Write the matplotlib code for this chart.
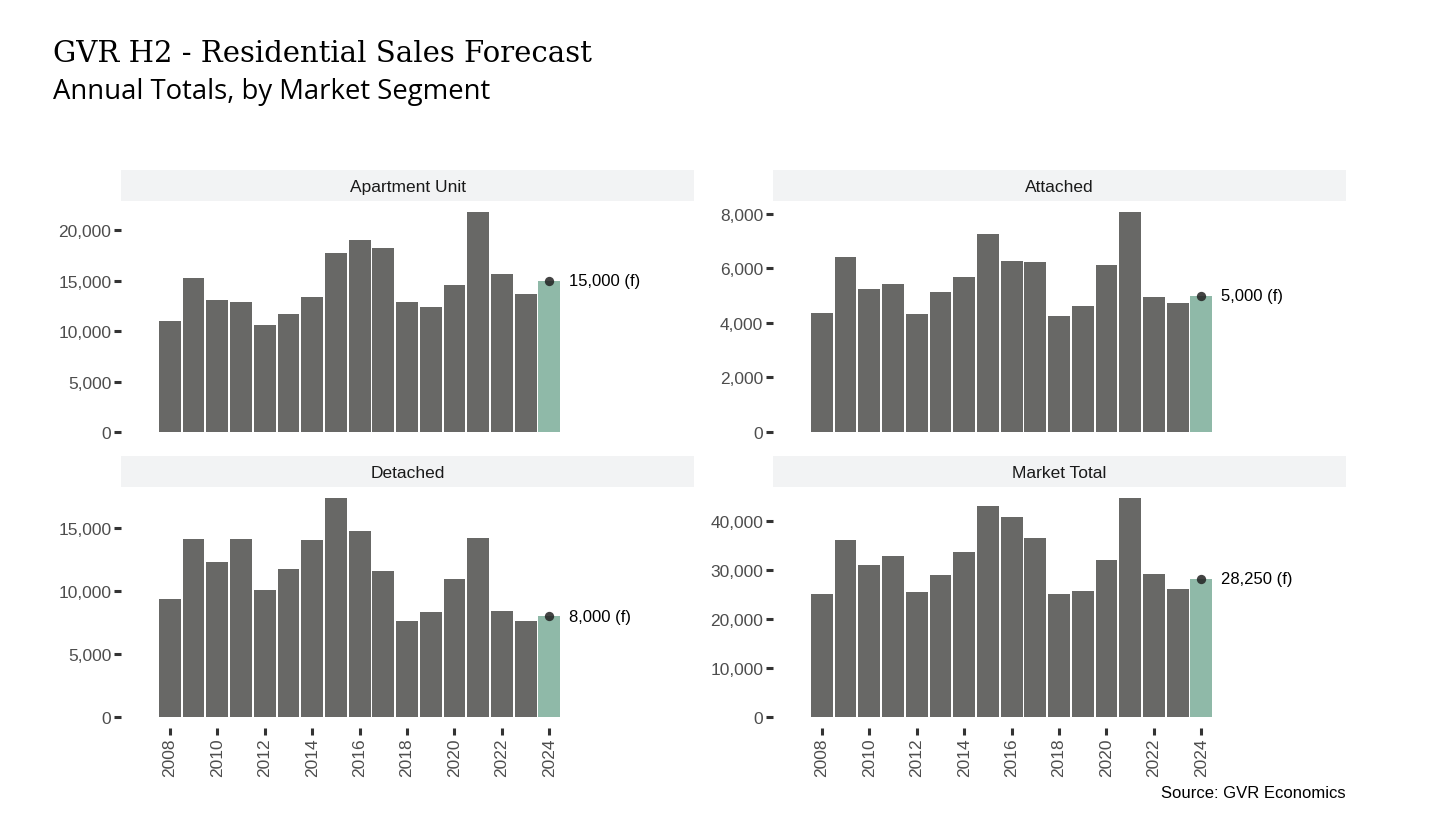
"""
GVR H2 - Residential Sales Forecast
Annual totals by market segment, small multiples with free y scales
"""

import matplotlib
matplotlib.use('Agg')
import matplotlib.pyplot as plt
from matplotlib.ticker import FuncFormatter
import numpy as np

# Data
years = list(range(2008, 2025))
forecast_year = 2024

segments = ['Apartment Unit', 'Attached', 'Detached', 'Market Total']

apartment = [11050, 15240, 13140, 12940, 10650, 11750, 13440, 17740, 19030,
             18240, 12850, 12450, 14540, 21830, 15640, 13740, 15000]
attached = [4380, 6410, 5230, 5420, 4340, 5120, 5670, 7260, 6260,
            6230, 4270, 4640, 6120, 8070, 4940, 4750, 5000]
detached = [9340, 14120, 12290, 14120, 10060, 11730, 14040, 17390, 14760,
            11570, 7590, 8310, 10940, 14200, 8390, 7590, 8000]
market_total = [25100, 36170, 31040, 32890, 25500, 28990, 33710, 43150, 40890,
                36580, 25090, 25710, 32070, 44790, 29200, 26120, 28250]

forecast_labels = ['15,000 (f)', '5,000 (f)', '8,000 (f)', '28,250 (f)']

y_ticks = {
    'Apartment Unit': [0, 5000, 10000, 15000, 20000],
    'Attached': [0, 2000, 4000, 6000, 8000],
    'Detached': [0, 5000, 10000, 15000],
    'Market Total': [0, 10000, 20000, 30000, 40000],
}
x_ticks = list(range(2008, 2025, 2))

series = dict(zip(segments, [apartment, attached, detached, market_total]))

# Styling
BAR_COLOR = '#686866'
FORECAST_COLOR = '#8FB9A8'
STRIP_COLOR = '#F2F3F4'
TICK_LABEL_COLOR = '#4D4D4D'
TICK_COLOR = '#333333'
SANS = ['Liberation Sans', 'DejaVu Sans']

W, H = 1432, 828

# panel boxes in pixels: (left, top, right, bottom)
panel_px = {
    'Apartment Unit': (121, 202, 694, 444),
    'Attached': (773, 202, 1346, 444),
    'Detached': (121, 488, 694, 729),
    'Market Total': (773, 488, 1346, 729),
}
STRIP_H = 31


def px_box(left, top, right, bottom):
    return [left / W, 1 - bottom / H, (right - left) / W, (bottom - top) / H]


def thousands(v, pos):
    return f'{int(v):,}'


fig = plt.figure(figsize=(W / 100, H / 100), dpi=100)
fig.patch.set_facecolor('white')

for i, seg in enumerate(segments):
    left, top, right, bottom = panel_px[seg]
    ax = fig.add_axes(px_box(left, top, right, bottom))
    vals = np.array(series[seg])
    colors = [FORECAST_COLOR if y == forecast_year else BAR_COLOR for y in years]
    ax.bar(years, vals, width=0.92, color=colors, linewidth=0)

    # forecast marker + label
    fval = vals[years.index(forecast_year)]
    ax.scatter([forecast_year], [fval], s=45, color='#222222', alpha=0.85,
               zorder=5, linewidths=0)
    ax.text(forecast_year + 0.85, fval, forecast_labels[i], ha='left',
            va='center', fontsize=12, color='black', family=SANS)

    vmax = vals.max()
    ax.set_ylim(-0.05 * vmax, 1.05 * vmax)
    ax.set_xlim(2005.94, 2030.1)
    ax.set_yticks(y_ticks[seg])
    ax.yaxis.set_major_formatter(FuncFormatter(thousands))
    ax.set_xticks(x_ticks)

    bottom_row = seg in ('Detached', 'Market Total')
    ax.tick_params(axis='y', length=5, width=2.2, color=TICK_COLOR, pad=2,
                   labelsize=12.5, labelcolor=TICK_LABEL_COLOR)
    ax.tick_params(axis='x', length=5 if bottom_row else 0, width=2.2,
                   color=TICK_COLOR, pad=2, labelsize=12.5,
                   labelcolor=TICK_LABEL_COLOR, labelrotation=90,
                   labelbottom=bottom_row)
    for lab in ax.get_xticklabels() + ax.get_yticklabels():
        lab.set_family(SANS)
    for s in ax.spines.values():
        s.set_visible(False)
    ax.set_facecolor('white')

    # facet strip
    sax = fig.add_axes(px_box(left, top - STRIP_H, right, top))
    sax.set_facecolor(STRIP_COLOR)
    sax.set_xticks([])
    sax.set_yticks([])
    for s in sax.spines.values():
        s.set_visible(False)
    sax.text(0.5, 0.48, seg, ha='center', va='center', fontsize=12.5,
             color='#1A1A1A', family=SANS, transform=sax.transAxes)

# titles
fig.text(53 / W, 1 - 62 / H, 'GVR H2 - Residential Sales Forecast',
         fontsize=21, family=['DejaVu Serif'], color='black',
         ha='left', va='baseline')
fig.text(53 / W, 1 - 99 / H, 'Annual Totals, by Market Segment',
         fontsize=19.8, family=['Open Sans', 'DejaVu Sans'], color='black',
         ha='left', va='baseline')

# caption
fig.text(1346 / W, 1 - 798 / H, 'Source: GVR Economics', fontsize=12,
         family=SANS, color='black', ha='right', va='baseline')

fig.savefig('out.png', dpi=100, facecolor='white')
